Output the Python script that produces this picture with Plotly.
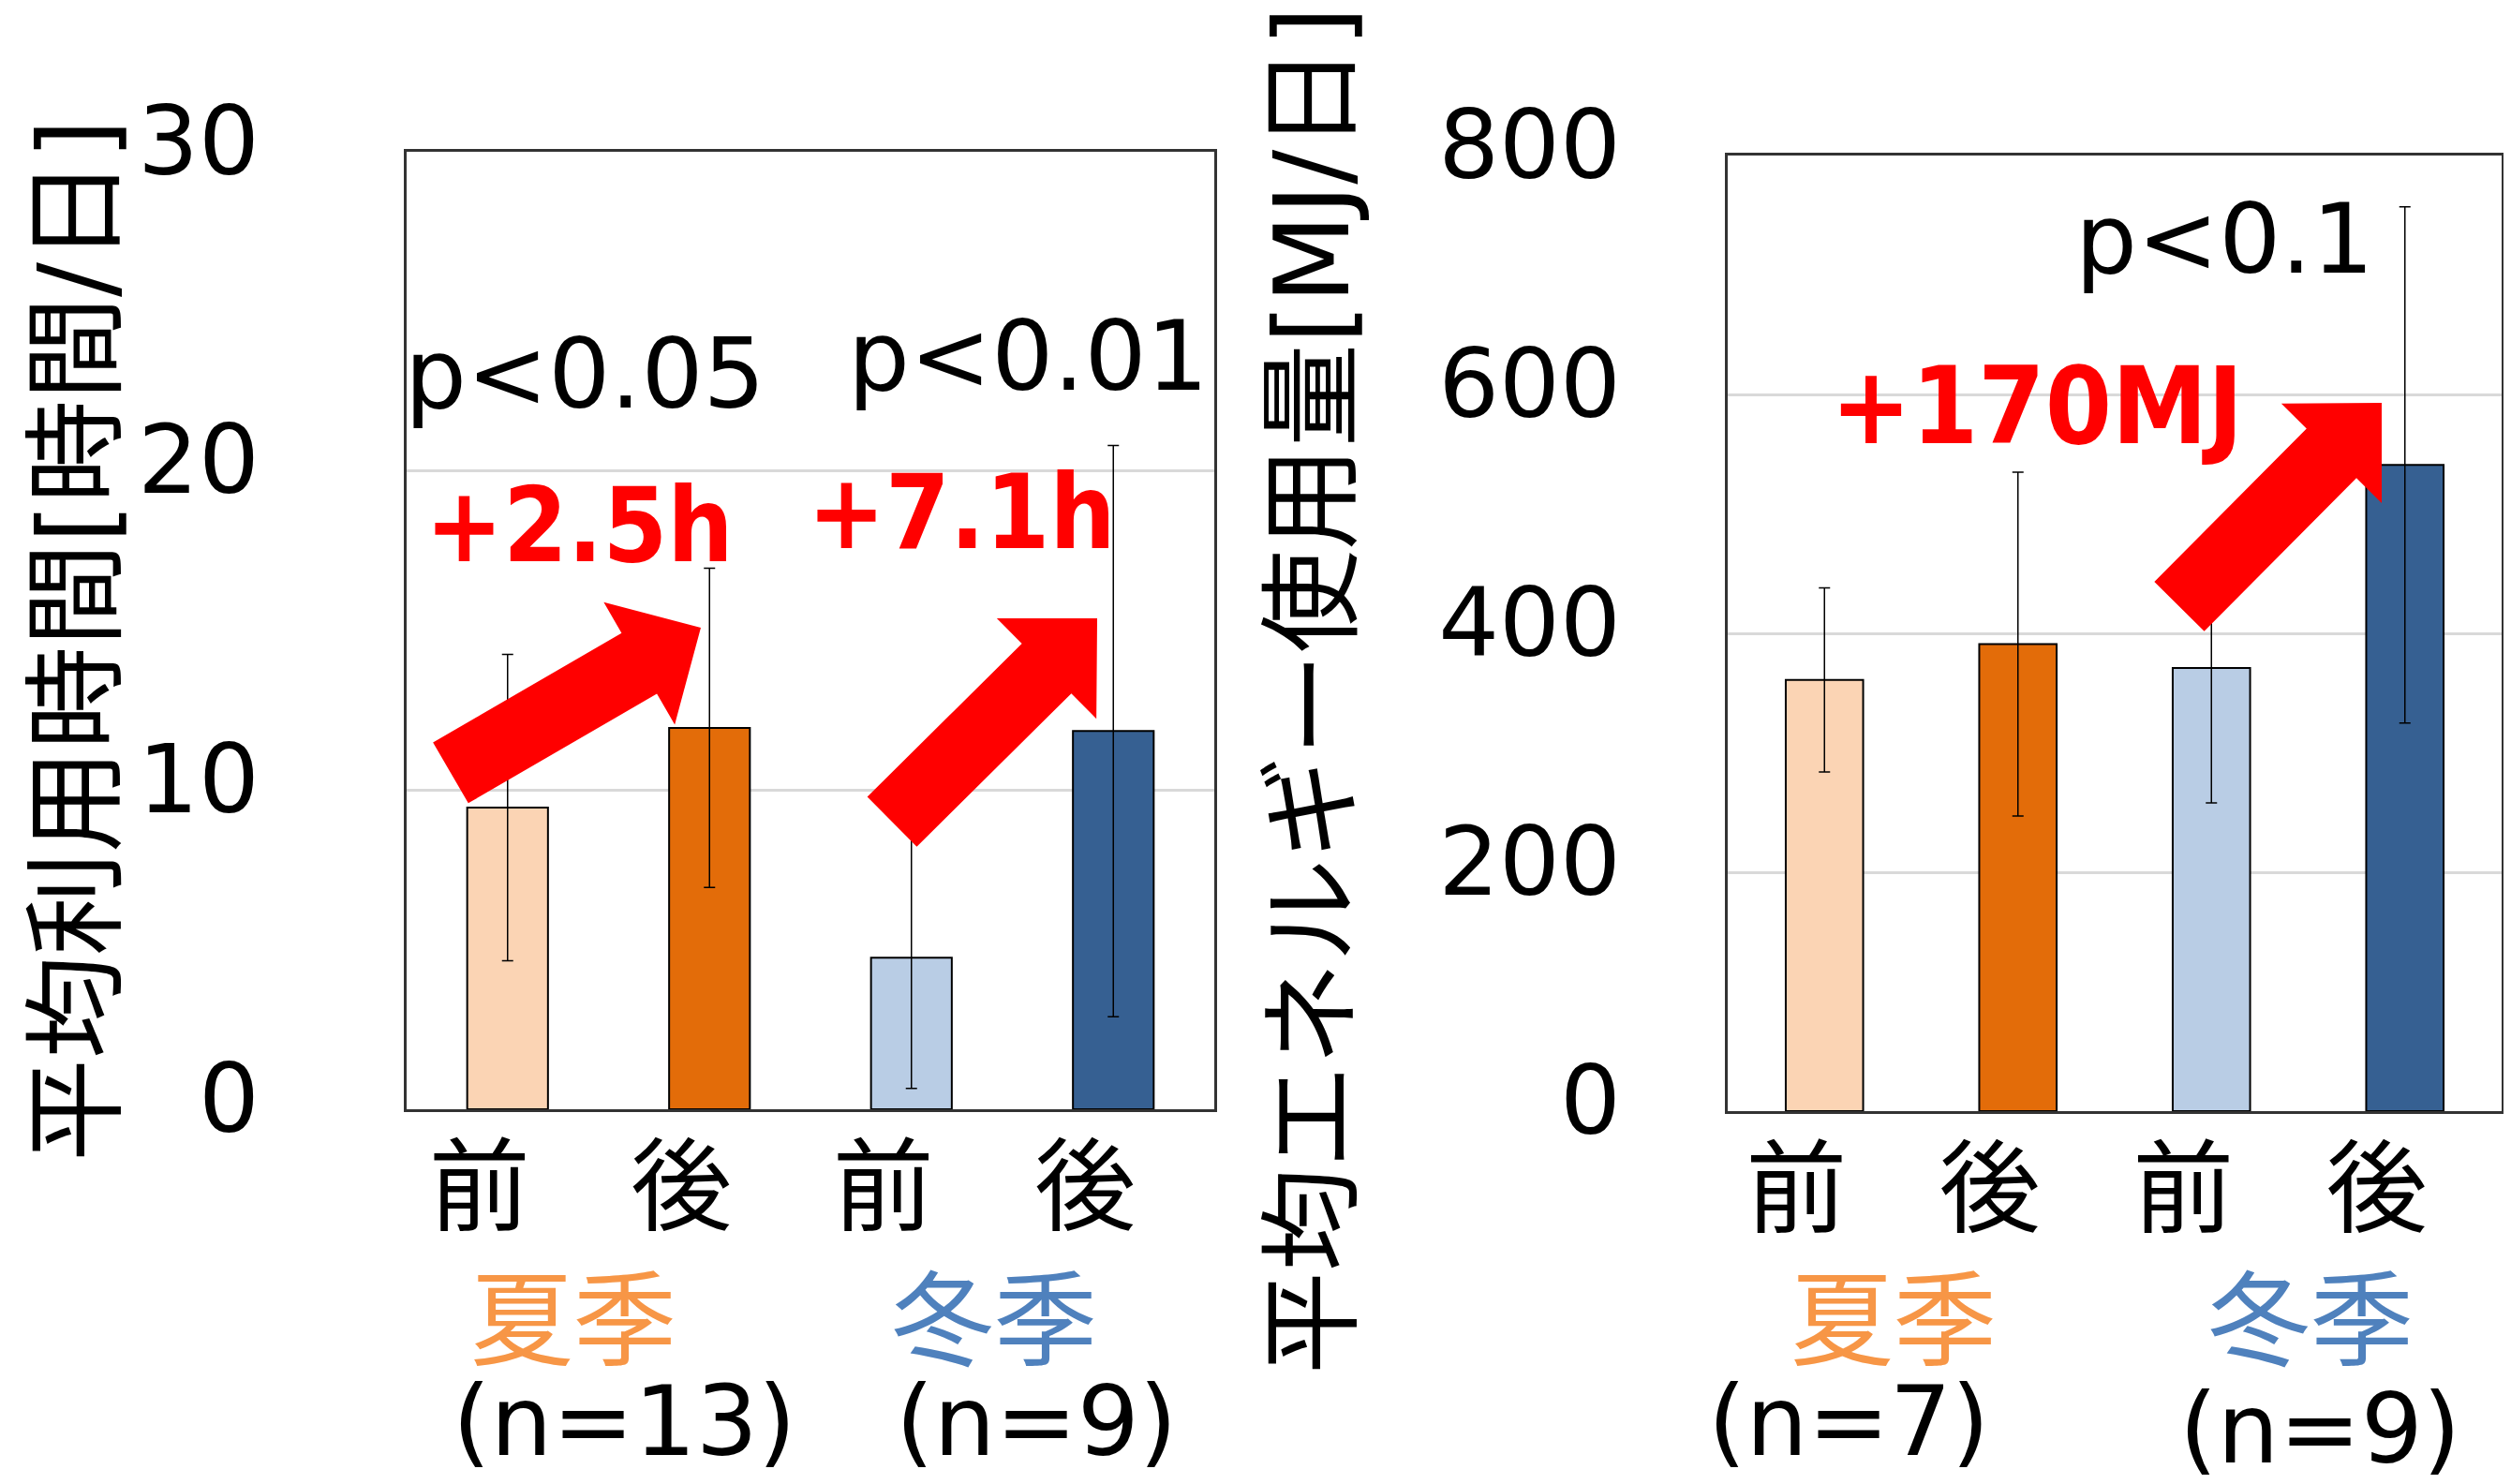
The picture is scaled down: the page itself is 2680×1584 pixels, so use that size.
import math
import plotly.graph_objects as go

# ---------------- data ----------------
categories = ["前", "後", "前", "後"]
hours_mean = [9.45, 11.95, 4.75, 11.85]
hours_sd = [4.8, 5.0, 4.1, 8.95]
energy_mean = [361, 391, 371, 541]
energy_sd = [77, 144, 113, 216]
hours_ticks = [0, 10, 20, 30]
energy_ticks = [0, 200, 400, 600, 800]
seasons = ["夏季", "冬季"]
n_left = ["(n=13)", "(n=9)"]
n_right = ["(n=7)", "(n=9)"]
p_left = ["p<0.05", "p<0.01"]
diff_left = ["+2.5h", "+7.1h"]
p_right = ["p<0.1"]
diff_right = ["+170MJ"]
title_left = "平均利用時間[時間/日]"
title_right = "平均エネルギー使用量[MJ/日]"

# ---------------- style ----------------
bar_colors = ["#FBD4B4", "#E36C09", "#B9CDE5", "#366092"]
season_colors = ["#F79646", "#4F81BD"]
OFF = 8  # page body margin
W, H = 2680 - 2 * OFF, 1584 - 2 * OFF
REG = "DejaVu Sans, Noto Sans CJK JP, sans-serif"
BOLD = "DejaVu Sans Condensed, DejaVu Sans, sans-serif"
CJK = "Noto Sans CJK JP, sans-serif"

# plot boxes in page pixels (left, right, top, bottom)
box_l = (434, 1296, 162, 1184)
box_r = (1844, 2670, 166, 1186)
xr = [-0.5, 3.5]
yr_l = [0, 30]
yr_r = [0, 800]


def px_x(p):
    return min(1.0, max(0.0, (p - OFF) / W))


def px_y(p):
    return min(1.0, max(0.0, 1 - (p - OFF) / H))


def mapper(box, yr):
    x0, x1, t, b = box
    def to_px(x, y):
        return (x0 + (x - xr[0]) / (xr[1] - xr[0]) * (x1 - x0),
                b - (y - yr[0]) / (yr[1] - yr[0]) * (b - t))
    def to_data(px, py):
        return (xr[0] + (px - x0) / (x1 - x0) * (xr[1] - xr[0]),
                yr[0] + (b - py) / (b - t) * (yr[1] - yr[0]))
    return to_px, to_data


def arrow_path(tail, tip, box, yr, shaft=75, head_w=151, head_len=76):
    to_px, to_data = mapper(box, yr)
    ax, ay = to_px(*tail)
    bx, by = to_px(*tip)
    L = math.hypot(bx - ax, by - ay)
    ux, uy = (bx - ax) / L, (by - ay) / L
    nx, ny = -uy, ux
    jx, jy = bx - ux * head_len, by - uy * head_len
    pts = [
        (ax + nx * shaft / 2, ay + ny * shaft / 2),
        (jx + nx * shaft / 2, jy + ny * shaft / 2),
        (jx + nx * head_w / 2, jy + ny * head_w / 2),
        (bx, by),
        (jx - nx * head_w / 2, jy - ny * head_w / 2),
        (jx - nx * shaft / 2, jy - ny * shaft / 2),
        (ax - nx * shaft / 2, ay - ny * shaft / 2),
    ]
    d = [to_data(px, py) for px, py in pts]
    return "M " + " L ".join(f"{x:.4f},{y:.4f}" for x, y in d) + " Z"


xpos = list(range(len(categories)))
fig = go.Figure()
fig.add_trace(go.Bar(
    x=xpos, y=hours_mean, width=0.4, xaxis="x", yaxis="y",
    marker=dict(color=bar_colors, line=dict(color="black", width=2)),
    error_y=dict(type="data", array=hours_sd, color="black", thickness=1.5, width=6),
    showlegend=False))
fig.add_trace(go.Bar(
    x=xpos, y=energy_mean, width=0.4, xaxis="x2", yaxis="y2",
    marker=dict(color=bar_colors, line=dict(color="black", width=2)),
    error_y=dict(type="data", array=energy_sd, color="black", thickness=1.5, width=6),
    showlegend=False))

axis_common = dict(showline=True, mirror=True, linecolor="#333333", linewidth=2.5,
                   zeroline=False, fixedrange=True, automargin=False)
fig.update_layout(
    width=W, height=H, margin=dict(l=0, r=0, t=0, b=0, autoexpand=False),
    paper_bgcolor="white", plot_bgcolor="white",
    xaxis=dict(domain=[px_x(box_l[0]), px_x(box_l[1])], range=xr, tickvals=xpos,
               ticktext=categories, showgrid=False, ticks="",
               tickfont=dict(family=CJK, size=108, color="black"),
               ticklabelstandoff=-11, ticklabelshift=-30, anchor="y", **axis_common),
    yaxis=dict(domain=[px_y(box_l[3]), px_y(box_l[2])], range=yr_l,
               tickvals=hours_ticks, showgrid=True, gridcolor="#D9D9D9", gridwidth=3,
               ticks="", tickfont=dict(family=REG, size=102, color="black"),
               ticklabelstandoff=134, ticklabelshift=-12, anchor="x", **axis_common),
    xaxis2=dict(domain=[px_x(box_r[0]), px_x(box_r[1])], range=xr, tickvals=xpos,
                ticktext=categories, showgrid=False, ticks="",
                tickfont=dict(family=CJK, size=108, color="black"),
                ticklabelstandoff=-11, ticklabelshift=-30, anchor="y2", **axis_common),
    yaxis2=dict(domain=[px_y(box_r[3]), px_y(box_r[2])], range=yr_r,
                tickvals=energy_ticks, showgrid=True, gridcolor="#D9D9D9", gridwidth=3,
                ticks="", tickfont=dict(family=REG, size=102, color="black"),
                ticklabelstandoff=91, ticklabelshift=-12, anchor="x2", **axis_common),
)

# arrows (tail -> tip in data coordinates)
arrows_left = [((-0.282, 10.54), (0.957, 15.09)), ((1.904, 9.01), (2.92, 15.38))]
arrows_right = [((1.834, 422.4), (2.88, 593.0))]
for tail, tip in arrows_left:
    fig.add_shape(type="path", xref="x", yref="y", path=arrow_path(tail, tip, box_l, yr_l),
                  fillcolor="#FF0000", line=dict(width=0), layer="above")
for tail, tip in arrows_right:
    fig.add_shape(type="path", xref="x2", yref="y2", path=arrow_path(tail, tip, box_r, yr_r),
                  fillcolor="#FF0000", line=dict(width=0), layer="above")

ann = []
# p-values and differences
for txt, (x, y) in zip(p_left, [(0.382, 23.04), (2.577, 23.6)]):
    ann.append(dict(text=txt, x=x, y=y, xref="x", yref="y", showarrow=False,
                    font=dict(family=REG, size=104, color="black")))
for txt, (x, y) in zip(diff_left, [(0.354, 18.3), (2.25, 18.7)]):
    ann.append(dict(text=f"<b>{txt}</b>", x=x, y=y, xref="x", yref="y", showarrow=False,
                    font=dict(family=BOLD, size=110, color="#FF0000")))
for txt, (x, y) in zip(p_right, [(2.067, 730)]):
    ann.append(dict(text=txt, x=x, y=y, xref="x2", yref="y2", showarrow=False,
                    font=dict(family=REG, size=104, color="black")))
for txt, (x, y) in zip(diff_right, [(1.096, 590)]):
    ann.append(dict(text=f"<b>{txt}</b>", x=x, y=y, xref="x2", yref="y2", showarrow=False,
                    font=dict(family=BOLD, size=114, color="#FF0000")))

# season labels and n labels
for txt, col, x in zip(seasons, season_colors, [0.326, 2.41]):
    ann.append(dict(text=txt, x=x, y=px_y(1401), xref="x", yref="paper", showarrow=False,
                    yanchor="middle", font=dict(family=CJK, size=110, color=col)))
for txt, col, x in zip(seasons, season_colors, [0.356, 2.51]):
    ann.append(dict(text=txt, x=x, y=px_y(1401), xref="x2", yref="paper", showarrow=False,
                    yanchor="middle", font=dict(family=CJK, size=110, color=col)))
for txt, x, yp in zip(n_left, [0.577, 2.62], [1517, 1517]):
    ann.append(dict(text=txt, x=x, y=px_y(yp), xref="x", yref="paper", showarrow=False,
                    yanchor="middle", font=dict(family=REG, size=104, color="black")))
for txt, x, yp in zip(n_right, [0.125, 2.56], [1517, 1525]):
    ann.append(dict(text=txt, x=x, y=px_y(yp), xref="x2", yref="paper", showarrow=False,
                    yanchor="middle", font=dict(family=REG, size=104, color="black")))

# axis titles
ann.append(dict(text=title_left, x=px_x(82), y=px_y(684), xref="paper", yref="paper",
                showarrow=False, textangle=-90, xanchor="center", yanchor="middle",
                font=dict(family=REG, size=110, color="black")))
ann.append(dict(text=title_right, x=px_x(1401), y=px_y(737), xref="paper", yref="paper",
                showarrow=False, textangle=-90, xanchor="center", yanchor="middle",
                font=dict(family=REG, size=110, color="black")))

fig.update_layout(annotations=ann)
fig.write_html("out.html")
